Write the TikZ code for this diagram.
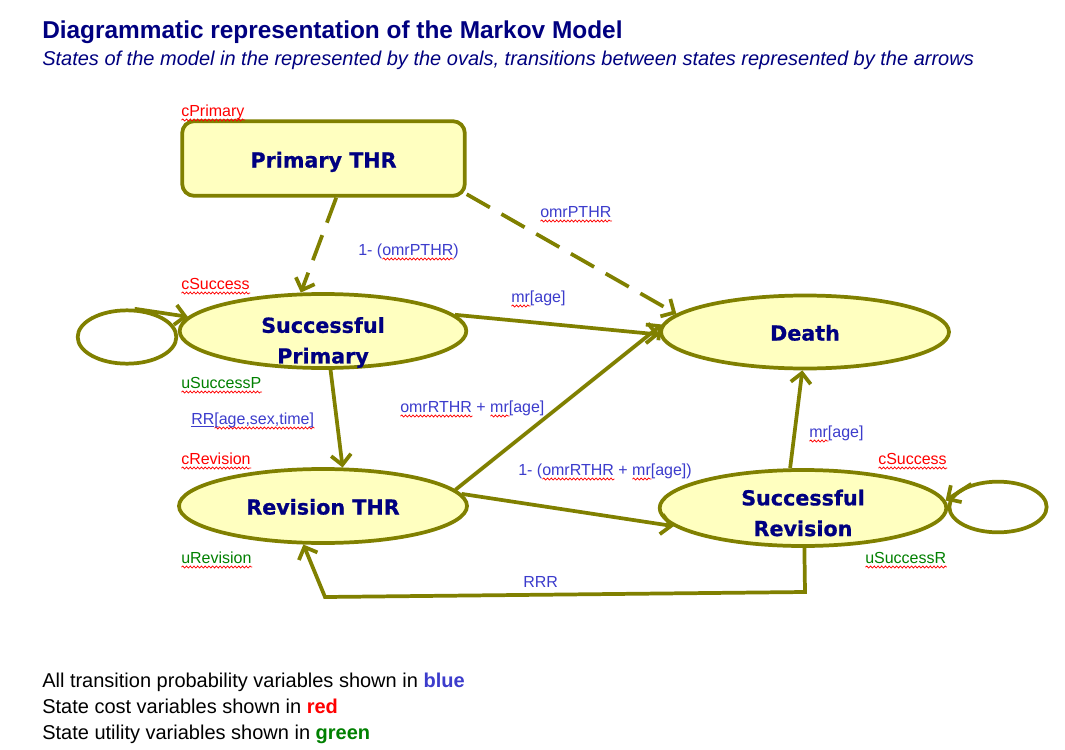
\documentclass[tikz,border=0pt]{standalone}
\usepackage{fontspec}
\setmainfont{Liberation Sans}
\newfontfamily\statefont{DejaVu Sans}[BoldFeatures={FakeBold=0.8}]
\usetikzlibrary{shapes.geometric,arrows.meta,decorations.pathmorphing}
\definecolor{olivel}{RGB}{128,128,0}
\definecolor{stfill}{RGB}{255,255,192}
\definecolor{navyt}{RGB}{0,0,128}
\definecolor{lblue}{RGB}{60,60,204}
\definecolor{lred}{RGB}{255,0,0}
\definecolor{lgreen}{RGB}{0,128,0}
\newsavebox\sqbox
\newcommand\sqw[1]{\sbox\sqbox{#1}\rlap{\raisebox{-3pt}{\tikz[x=1pt,y=1pt,baseline=0pt]\draw[lred,line width=0.55pt,line cap=round,decorate,decoration={snake,amplitude=0.75pt,segment length=2.8pt}] (0pt,0pt) -- (\the\wd\sqbox,0pt);}}#1}
\begin{document}
\begin{tikzpicture}[x=0.75pt,y=-0.75pt,
  stateshape/.style={draw=olivel, fill=stfill, line width=2.8pt, inner sep=0pt,
    font=\statefont\bfseries\fontsize{15.5}{23}\selectfont, text=navyt, align=center,
    text height=15.8pt, text depth=3pt},
  state/.style={stateshape, ellipse},
  statetext/.style={font=\statefont\bfseries\fontsize{15.5}{23}\selectfont, text=navyt, align=center, inner sep=0pt},
  loopst/.style={ellipse, draw=olivel, line width=2.8pt, inner sep=0pt},
  conn/.style={draw=olivel, line width=2.8pt, -{Straight Barb[length=7.5pt,width=15pt]}},
  dconn/.style={conn, dash pattern=on 20pt off 10pt},
  lbl/.style={anchor=base west, inner sep=0pt, font=\fontsize{12}{14}\selectfont},
  blbl/.style={lbl, text=lblue},
  rlbl/.style={lbl, text=lred},
  glbl/.style={lbl, text=lgreen},
  legend/.style={anchor=base west, inner sep=0pt, font=\fontsize{15}{18}\selectfont}
]
\useasboundingbox (0,0) rectangle (1065,750);
\fill[white] (0,0) rectangle (1065,750);

% titles
\node[anchor=base west, inner sep=0pt, text=navyt, font=\bfseries\fontsize{18.3}{22}\selectfont] (title) at (42,38) {Diagrammatic representation of the Markov Model};
\node[anchor=base west, inner sep=0pt, text=navyt, font=\itshape\fontsize{15}{18}\selectfont] (subtitle) at (42,65) {States of the model in the represented by the ovals, transitions between states represented by the arrows};

% states
\node[stateshape, rectangle, rounded corners=9pt, minimum width=212pt, minimum height=56pt, text height=16.5pt] (prim) at (323.5,158.5) {Primary THR};
\node[state, minimum width=215pt, minimum height=55.5pt] (sp) at (323,331) {};
\node[statetext] (sptext) at (323,342.5) {Successful\\Primary};
\node[state, minimum width=216pt, minimum height=54.75pt] (death) at (805,332) {Death};
\node[state, minimum width=216pt, minimum height=55.5pt] (rev) at (323,506) {Revision THR};
\node[state, minimum width=215pt, minimum height=57pt] (sr) at (803,508) {};
\node[statetext] (srtext) at (803,513) {Successful\\Revision};
\node[loopst, minimum width=74pt, minimum height=40pt] (loopL) at (127,337) {};
\node[loopst, minimum width=73pt, minimum height=38pt] (loopR) at (998,507) {};

% connectors
\draw[dconn] (prim.-72) -- (sp.120);
\draw[dconn] (prim.-14.5) -- (death.172);
\draw[conn] (sp.7) -- (death.181);
\draw[conn] (sp.-79) -- (rev.63);
\draw[conn] (rev.7.7) -- (death.177);
\draw[conn] (rev.5.5) -- (sr.188);
\draw[conn] (sr.108) -- (death.266);
\coordinate (b1) at (805,592);
\coordinate (b2) at (325,597);
\draw[conn] (sr.-88) -- (b1) -- (b2) -- (rev.243);
\draw[conn] (loopL.75) -- (sp.174);
\draw[conn] (loopR.139) -- (sr.3);

% labels
\node[rlbl] (l1) at (181,116) {\sqw{cPrimary}};
\node[blbl] (l2) at (358,255) {1- (\sqw{omrPTHR})};
\node[blbl] (l3) at (540,217) {\sqw{omrPTHR}};
\node[rlbl] (l4) at (181,289) {\sqw{cSuccess}};
\node[blbl] (l5) at (511,302) {\sqw{mr}[age]};
\node[glbl] (l6) at (181,388) {\sqw{uSuccessP}};
\node[blbl] (l7) at (191,424) {\underline{RR}\sqw{[age,sex,time]}};
\node[blbl] (l8) at (400,412) {\sqw{omrRTHR} + \sqw{mr}[age]};
\node[rlbl] (l9) at (181,464) {\sqw{cRevision}};
\node[glbl] (l10) at (181,563) {\sqw{uRevision}};
\node[blbl] (l11) at (518,475) {1- (\sqw{omrRTHR} + \sqw{mr}[age])};
\node[blbl] (l12) at (809,437) {\sqw{mr}[age]};
\node[rlbl] (l13) at (878,464) {\sqw{cSuccess}};
\node[glbl] (l14) at (865,563) {\sqw{uSuccessR}};
\node[blbl] (l15) at (523,587) {RRR};

% legend
\node[legend] (g1) at (42,687) {All transition probability variables shown in \textcolor{lblue}{\bfseries blue}};
\node[legend] (g2) at (42,713) {State cost variables shown in \textcolor{lred}{\bfseries red}};
\node[legend] (g3) at (42,739) {State utility variables shown in \textcolor{lgreen}{\bfseries green}};
\end{tikzpicture}
\end{document}
